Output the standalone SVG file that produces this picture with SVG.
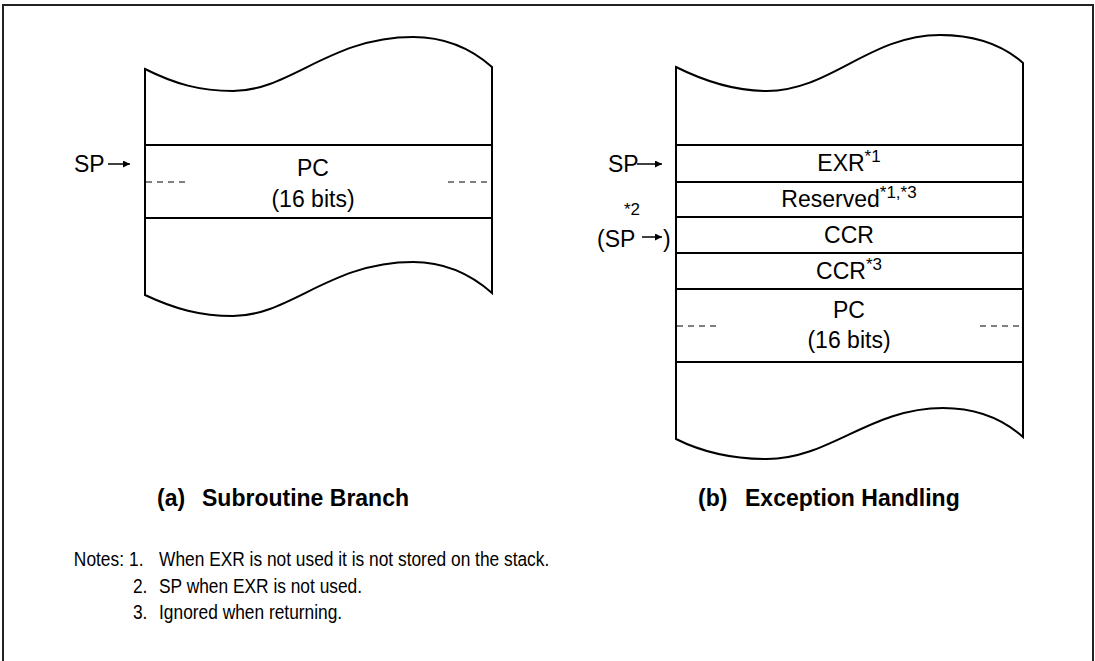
<svg xmlns="http://www.w3.org/2000/svg" width="1095" height="661" viewBox="0 0 1095 661">
<defs>
<style>
.t{font-family:"Liberation Sans",Arial,sans-serif;font-size:23px;fill:#000}
.b{font-family:"Liberation Sans",Arial,sans-serif;font-size:23px;font-weight:bold;fill:#000}
.n{font-family:"Liberation Sans",Arial,sans-serif;font-size:19.5px;fill:#000}
.s{font-size:17px}
.box{fill:none;stroke:#000;stroke-width:2}
.row{stroke:#000;stroke-width:1.8}
.dash{stroke:#000;stroke-width:1;stroke-dasharray:6,5}
.arr{stroke:#000;stroke-width:1.5;marker-end:url(#ah)}
</style>
<marker id="ah" viewBox="0 0 10 10" refX="10" refY="5" markerWidth="7" markerHeight="7" markerUnits="userSpaceOnUse" orient="auto"><path d="M0,0 L10,5 L0,10 z" fill="#000"/></marker>
</defs>
<rect width="1095" height="661" fill="#fff"/>
<path d="M3,661 V5 H1093 V661" fill="none" stroke="#222" stroke-width="2"/>

<g id="stack-a">
<path class="box" d="M145,295 V69 C175,84 200,91 233,91 C290,91 330,37 413,37 C450,37 475,52 492,67 V293 C475,278 450,262 413,262 C330,262 290,316 233,316 C200,316 175,309 145,295 Z"/>
<line class="row" x1="145" y1="145" x2="492" y2="145"/>
<line class="row" x1="145" y1="218" x2="492" y2="218"/>
<line class="dash" x1="146" y1="182" x2="186" y2="182"/>
<line class="dash" x1="448" y1="182" x2="491" y2="182"/>
<text class="t" x="313" y="176" text-anchor="middle">PC</text>
<text class="t" x="313" y="207" text-anchor="middle">(16 bits)</text>
<text class="t" x="74" y="172">SP</text>
<text class="b" y="506"><tspan x="157">(a)</tspan><tspan x="202">Subroutine Branch</tspan></text>
</g>

<g id="stack-b">
<path class="box" d="M676,439 V67 C706,82 735,91 767,91 C830,91 870,35 940,35 C980,35 1005,47 1023,63 V437 C1005,421 980,408 943,408 C870,408 830,459 767,459 C735,459 706,454 676,439 Z"/>
<line class="row" x1="676" y1="145" x2="1023" y2="145"/>
<line class="row" x1="676" y1="182" x2="1023" y2="182"/>
<line class="row" x1="676" y1="217" x2="1023" y2="217"/>
<line class="row" x1="676" y1="253" x2="1023" y2="253"/>
<line class="row" x1="676" y1="289" x2="1023" y2="289"/>
<line class="row" x1="676" y1="362" x2="1023" y2="362"/>
<line class="dash" x1="677" y1="326" x2="716" y2="326"/>
<line class="dash" x1="980" y1="326" x2="1022" y2="326"/>
<text class="t" x="849" y="171" text-anchor="middle">EXR<tspan class="s" dy="-9">*1</tspan></text>
<text class="t" x="849" y="207" text-anchor="middle">Reserved<tspan class="s" dy="-9">*1,*3</tspan></text>
<text class="t" x="849" y="243" text-anchor="middle">CCR</text>
<text class="t" x="849" y="279" text-anchor="middle">CCR<tspan class="s" dy="-9">*3</tspan></text>
<text class="t" x="849" y="318" text-anchor="middle">PC</text>
<text class="t" x="849" y="348" text-anchor="middle">(16 bits)</text>
<text class="t" x="608" y="172">SP</text>
<text class="t" x="624" y="215"><tspan class="s">*2</tspan></text>
<text class="t" x="597" y="247">(SP</text>
<text class="t" x="663" y="247">)</text>
<text class="b" y="506"><tspan x="698">(b)</tspan><tspan x="745">Exception Handling</tspan></text>
</g>

<g id="connectors">
<line class="arr" x1="108" y1="164" x2="130" y2="164"/>
<line class="arr" x1="637" y1="164" x2="662" y2="164"/>
<line class="arr" x1="642" y1="237" x2="662" y2="237"/>
</g>

<g id="notes" transform="scale(0.89,1)">
<text class="n" x="83" y="566">Notes:</text>
<text class="n" x="145" y="566">1.</text>
<text class="n" x="178.7" y="566">When EXR is not used it is not stored on the stack.</text>
<text class="n" x="149.4" y="593">2.</text>
<text class="n" x="178.7" y="593">SP when EXR is not used.</text>
<text class="n" x="149.4" y="619">3.</text>
<text class="n" x="178.7" y="619">Ignored when returning.</text>
</g>
</svg>
